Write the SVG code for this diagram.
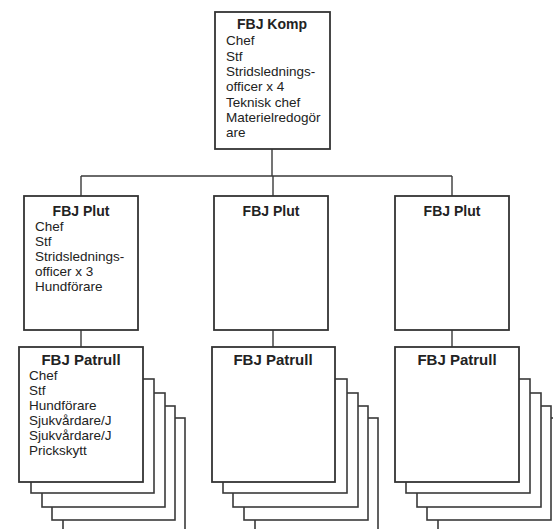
<svg xmlns="http://www.w3.org/2000/svg" width="553" height="529" viewBox="0 0 553 529">
<style>
.box{fill:#fff;stroke:#333;stroke-width:1.8}
.back{fill:#fff;stroke:#3a3a3a;stroke-width:1.6}
.conn{fill:none;stroke:#3a3a3a;stroke-width:1.4}
.t{font-family:"Liberation Sans",Arial,sans-serif;font-weight:bold;font-size:14px;fill:#222;text-anchor:middle}
.tp{font-family:"Liberation Sans",Arial,sans-serif;font-weight:bold;font-size:15px;fill:#222;text-anchor:middle}
.b{font-family:"Liberation Sans",Arial,sans-serif;font-size:13.5px;fill:#222}
</style>
<rect width="553" height="529" fill="#fff"/>
<g id="connectors">
<path class="conn" d="M272,149 V176 M81,176 H452 M81,176 V196 M273,176 V196 M452,176 V196"/>
<path class="conn" d="M81,330 V347 M273,330 V347 M452,330 V347"/>
</g>
<g id="komp">
<rect class="box" x="215" y="12" width="115" height="137"/>
<text class="t" x="272" y="29">FBJ Komp</text>
<text class="b" x="226" y="45">Chef</text>
<text class="b" x="226" y="60.5">Stf</text>
<text class="b" x="226" y="76">Stridslednings-</text>
<text class="b" x="226" y="91">officer x 4</text>
<text class="b" x="226" y="106.5">Teknisk chef</text>
<text class="b" x="226" y="122">Materielredogör</text>
<text class="b" x="226" y="137">are</text>
</g>
<g id="plut1">
<rect class="box" x="24" y="196" width="114" height="134"/>
<text class="t" x="81" y="216">FBJ Plut</text>
<text class="b" x="35" y="231">Chef</text>
<text class="b" x="35" y="246">Stf</text>
<text class="b" x="35" y="261">Stridslednings-</text>
<text class="b" x="35" y="276">officer x 3</text>
<text class="b" x="35" y="291">Hundförare</text>
</g>
<g id="plut2">
<rect class="box" x="214" y="196" width="114" height="134"/>
<text class="t" x="271" y="216">FBJ Plut</text>
</g>
<g id="plut3">
<rect class="box" x="395" y="196" width="114" height="134"/>
<text class="t" x="452" y="216">FBJ Plut</text>
</g>
<g id="patrull1">
<rect class="back" x="63" y="418" width="122" height="125"/>
<rect class="back" x="52" y="406" width="123" height="114"/>
<rect class="back" x="42" y="393" width="123" height="114"/>
<rect class="back" x="31" y="379" width="123" height="114"/>
<rect class="box" x="19" y="347" width="124" height="135"/>
<text class="tp" x="81" y="365">FBJ Patrull</text>
<text class="b" x="29" y="380">Chef</text>
<text class="b" x="29" y="395">Stf</text>
<text class="b" x="29" y="410">Hundförare</text>
<text class="b" x="29" y="425">Sjukvårdare/J</text>
<text class="b" x="29" y="440">Sjukvårdare/J</text>
<text class="b" x="29" y="455">Prickskytt</text>
</g>
<g id="patrull2">
<rect class="back" x="255" y="418" width="123" height="125"/>
<rect class="back" x="244" y="406" width="124" height="114"/>
<rect class="back" x="233" y="393" width="125" height="114"/>
<rect class="back" x="223" y="379" width="124" height="114"/>
<rect class="box" x="212" y="347" width="123" height="135"/>
<text class="tp" x="273" y="365">FBJ Patrull</text>
</g>
<g id="patrull3">
<rect class="back" x="438" y="418" width="124" height="125"/>
<rect class="back" x="427" y="406" width="124" height="114"/>
<rect class="back" x="417" y="393" width="124" height="114"/>
<rect class="back" x="406" y="379" width="124" height="114"/>
<rect class="box" x="395" y="347" width="124" height="135"/>
<text class="tp" x="457" y="365">FBJ Patrull</text>
</g>
</svg>
